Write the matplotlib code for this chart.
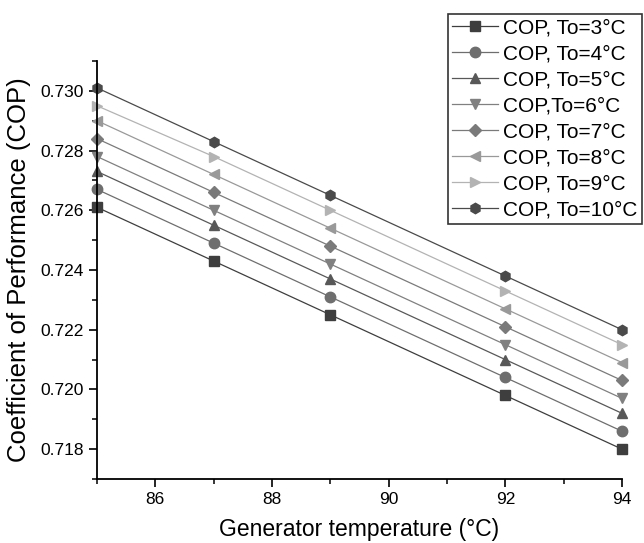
import matplotlib
matplotlib.use("Agg")
import matplotlib.pyplot as plt
from matplotlib.ticker import MultipleLocator

plt.rcParams['font.family'] = ['Liberation Sans', 'DejaVu Sans']

# Generator temperature (°C)
gen_temp = [85, 87, 89, 92, 94]

# COP for each evaporator temperature To
cop_3 = [0.7261, 0.7243, 0.7225, 0.7198, 0.7180]
cop_4 = [0.7267, 0.7249, 0.7231, 0.7204, 0.7186]
cop_5 = [0.7273, 0.7255, 0.7237, 0.7210, 0.7192]
cop_6 = [0.7278, 0.7260, 0.7242, 0.7215, 0.7197]
cop_7 = [0.7284, 0.7266, 0.7248, 0.7221, 0.7203]
cop_8 = [0.7290, 0.7272, 0.7254, 0.7227, 0.7209]
cop_9 = [0.7295, 0.7278, 0.7260, 0.7233, 0.7215]
cop_10 = [0.7301, 0.7283, 0.7265, 0.7238, 0.7220]

labels = ["COP, To=3°C", "COP, To=4°C", "COP, To=5°C", "COP,To=6°C",
          "COP, To=7°C", "COP, To=8°C", "COP, To=9°C", "COP, To=10°C"]
series = [cop_3, cop_4, cop_5, cop_6, cop_7, cop_8, cop_9, cop_10]
markers = ['s', 'o', '^', 'v', 'D', '<', '>', 'h']
colors = ['#3e3e3e', '#6e6e6e', '#585858', '#808080',
          '#7a7a7a', '#999999', '#b3b3b3', '#4a4a4a']
sizes = [7, 7.5, 7.5, 7.5, 6, 7.5, 7.5, 7.5]

fig = plt.figure(figsize=(6.44, 5.43), dpi=100)
ax = fig.add_axes([97 / 644, 1 - 479 / 543, 525 / 644, 418 / 543])

for y, lab, m, c, s in zip(series, labels, markers, colors, sizes):
    ax.plot(gen_temp, y, color=c, lw=0.9, marker=m, markersize=s,
            markerfacecolor=c, markeredgecolor=c, label=lab, clip_on=False)

ax.set_xlim(85, 94)
ax.set_ylim(0.717, 0.731)
ax.xaxis.set_major_locator(MultipleLocator(2))
ax.xaxis.set_minor_locator(MultipleLocator(1))
ax.yaxis.set_major_locator(MultipleLocator(0.002))
ax.yaxis.set_minor_locator(MultipleLocator(0.001))
ax.yaxis.set_major_formatter(plt.FormatStrFormatter('%.3f'))

for side in ['top', 'right']:
    ax.spines[side].set_visible(False)
for side in ['left', 'bottom']:
    ax.spines[side].set_linewidth(1.3)

ax.tick_params(which='major', direction='out', length=5.5, width=1.2,
               labelsize=12.5, pad=4)
ax.tick_params(which='minor', direction='out', length=3.5, width=1.1)

ax.set_xlabel("Generator temperature (°C)", fontsize=16.5, labelpad=8)
ax.set_ylabel("Coefficient of Performance (COP)", fontsize=18.5, labelpad=7)

leg = ax.legend(loc='upper left', bbox_to_anchor=(448 / 644, 1 - 14 / 543),
                bbox_transform=fig.transFigure, fontsize=15, frameon=True,
                fancybox=False, edgecolor='black', handlelength=2.2,
                labelspacing=0.34, borderpad=0.2, handletextpad=0.25,
                borderaxespad=0)
leg.get_frame().set_linewidth(1.2)

fig.savefig("out.png", dpi=100)
